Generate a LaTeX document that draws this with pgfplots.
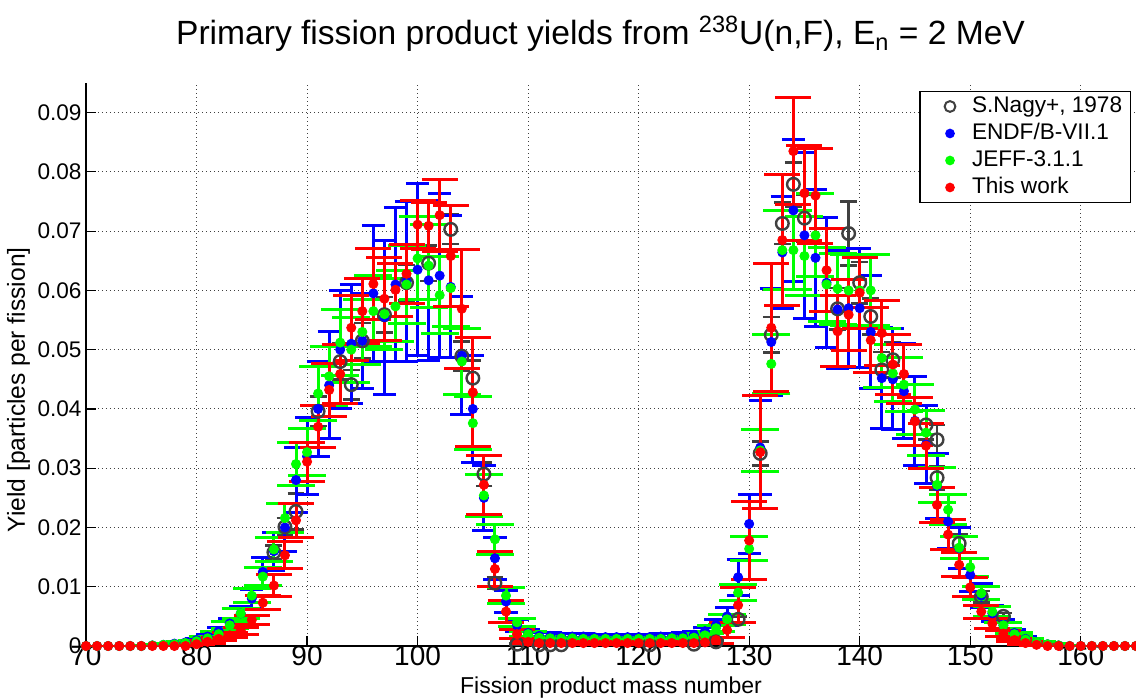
\documentclass[border=0pt]{standalone}
\usepackage{fontspec}
\setmainfont{Liberation Sans}
\usepackage{pgfplots}
\usepackage{pgfplotstable}
\pgfplotsset{compat=1.18}
\definecolor{nagy}{RGB}{64,64,64}
\definecolor{eblue}{RGB}{0,0,255}
\definecolor{jgreen}{RGB}{0,255,0}
\definecolor{twred}{RGB}{255,0,0}

\pgfplotstableread{
A Y E
87 0.0158 0.0012
88 0.0201 0.0015
89 0.0227 0.0030
91 0.0396 0.0025
93 0.0480 0.0030
94 0.0441 0.0025
95 0.0515 0.0030
97 0.0559 0.0030
99 0.0613 0.0030
101 0.0646 0.0030
103 0.0703 0.0025
104 0.0489 0.0025
105 0.0452 0.0030
106 0.0290 0.0020
107 0.0106 0.0010
109 0.0003 0.0001
111 0.0002 0.0001
112 0.0002 0.0001
113 0.0002 0.0001
121 0.0002 0.0001
125 0.0003 0.0001
127 0.0007 0.0002
129 0.0045 0.0005
131 0.0325 0.0020
132 0.0525 0.0030
133 0.0713 0.0035
134 0.0779 0.0037
135 0.0722 0.0040
138 0.0569 0.0035
139 0.0696 0.0054
140 0.0613 0.0035
141 0.0556 0.0030
142 0.0466 0.0030
143 0.0483 0.0030
146 0.0373 0.0025
147 0.0348 0.0025
147 0.0284 0.0020
149 0.0173 0.0015
151 0.0083 0.0010
153 0.0050 0.0006
}\nagytab

\pgfplotstableread{
A Y E
70 0 0
71 0 0
72 0 0
73 0 0
74 0 0
75 0 0
76 0.0001 0.00005
77 0.0002 0.0001
78 0.0004 0.0001
79 0.0006 0.0002
80 0.0010 0.0003
81 0.0016 0.0004
82 0.0025 0.0006
83 0.0038 0.0008
84 0.0055 0.0012
85 0.0080 0.0016
86 0.0125 0.0025
87 0.0160 0.0032
88 0.0200 0.0040
89 0.0280 0.0055
90 0.0320 0.0065
91 0.0400 0.0080
92 0.0440 0.0090
93 0.0500 0.0100
94 0.0510 0.0100
95 0.0515 0.0080
96 0.0595 0.0115
97 0.0555 0.0130
98 0.0610 0.0130
99 0.0615 0.0135
100 0.0635 0.0145
101 0.0617 0.0135
102 0.0625 0.0138
103 0.0606 0.0120
104 0.0490 0.0100
105 0.0400 0.0090
106 0.0250 0.0055
107 0.0148 0.0035
108 0.0075 0.0018
109 0.0035 0.0010
110 0.0022 0.0006
111 0.0017 0.0005
112 0.0017 0.0005
113 0.0016 0.0005
114 0.0016 0.0005
115 0.0016 0.0005
116 0.0015 0.0005
117 0.0015 0.0005
118 0.0015 0.0005
119 0.0015 0.0005
120 0.0015 0.0005
121 0.0015 0.0005
122 0.0016 0.0005
123 0.0016 0.0005
124 0.0017 0.0005
125 0.0019 0.0006
126 0.0025 0.0007
127 0.0035 0.0010
128 0.0050 0.0015
129 0.0116 0.0030
130 0.0206 0.0050
131 0.0335 0.0080
132 0.0513 0.0090
133 0.0664 0.0095
134 0.0735 0.0120
135 0.0693 0.0140
136 0.0655 0.0116
137 0.0613 0.0110
138 0.0568 0.0100
139 0.0570 0.0100
140 0.0570 0.0100
141 0.0530 0.0095
142 0.0452 0.0085
143 0.0450 0.0085
144 0.0430 0.0080
145 0.0380 0.0075
146 0.0340 0.0065
147 0.0270 0.0055
148 0.0210 0.0045
149 0.0165 0.0035
150 0.0120 0.0028
151 0.0085 0.0020
152 0.0055 0.0014
153 0.0035 0.0009
154 0.0022 0.0006
155 0.0012 0.0004
156 0.0006 0.0002
157 0.0003 0.0001
158 0.0001 0.00005
159 0 0
160 0 0
161 0 0
162 0 0
163 0 0
164 0 0
165 0 0
}\endftab

\pgfplotstableread{
A Y E
70 0 0
71 0 0
72 0 0
73 0 0
74 0 0
75 0 0
76 0.0001 0.00005
77 0.0002 0.0001
78 0.0003 0.0001
79 0.0005 0.0002
80 0.0008 0.0002
81 0.0013 0.0003
82 0.0020 0.0004
83 0.0035 0.0006
84 0.0055 0.0008
85 0.0085 0.0012
86 0.0117 0.0015
87 0.0163 0.0020
88 0.0216 0.0025
89 0.0307 0.0037
90 0.0327 0.0040
91 0.0426 0.0045
92 0.0455 0.0050
93 0.0512 0.0055
94 0.0500 0.0055
95 0.0530 0.0055
96 0.0565 0.0060
97 0.0560 0.0060
98 0.0573 0.0060
99 0.0610 0.0065
100 0.0654 0.0070
101 0.0642 0.0070
102 0.0592 0.0065
103 0.0604 0.0065
104 0.0480 0.0055
105 0.0376 0.0045
106 0.0254 0.0035
107 0.0180 0.0025
108 0.0085 0.0013
109 0.0040 0.0007
110 0.0020 0.0004
111 0.0014 0.0002
112 0.0013 0.0002
113 0.0013 0.0002
114 0.0013 0.0002
115 0.0012 0.0002
116 0.0012 0.0002
117 0.0012 0.0002
118 0.0012 0.0002
119 0.0012 0.0002
120 0.0012 0.0002
121 0.0012 0.0002
122 0.0012 0.0002
123 0.0013 0.0002
124 0.0013 0.0002
125 0.0014 0.0002
126 0.0018 0.0003
127 0.0030 0.0005
128 0.0045 0.0008
129 0.0090 0.0014
130 0.0164 0.0020
131 0.0330 0.0035
132 0.0476 0.0050
133 0.0668 0.0067
134 0.0668 0.0067
135 0.0658 0.0066
136 0.0693 0.0070
137 0.0610 0.0062
138 0.0603 0.0060
139 0.0600 0.0060
140 0.0600 0.0060
141 0.0600 0.0060
142 0.0486 0.0050
143 0.0460 0.0048
144 0.0441 0.0045
145 0.0399 0.0042
146 0.0360 0.0038
147 0.0272 0.0030
148 0.0230 0.0025
149 0.0166 0.0019
150 0.0133 0.0015
151 0.0089 0.0011
152 0.0058 0.0008
153 0.0035 0.0005
154 0.0020 0.0003
155 0.0011 0.0002
156 0.0006 0.0001
157 0.0003 0.0001
158 0.0001 0.00005
159 0 0
160 0 0
161 0 0
162 0 0
163 0 0
164 0 0
165 0 0
}\jefftab

\pgfplotstableread{
A Y E
70 0 0
71 0 0
72 0 0
73 0 0
74 0 0
75 0 0
76 0 0
77 0 0
78 0 0
79 0 0
80 0.0003 0.0001
81 0.0007 0.0002
82 0.0012 0.0003
83 0.0018 0.0004
84 0.0026 0.0006
85 0.0044 0.0008
86 0.0073 0.0012
87 0.0102 0.0019
88 0.0153 0.0023
89 0.0212 0.0029
90 0.0311 0.0033
91 0.0370 0.0035
92 0.0432 0.0045
93 0.0459 0.0050
94 0.0537 0.0055
95 0.0565 0.0055
96 0.0611 0.0060
97 0.0586 0.0070
98 0.0601 0.0045
99 0.0628 0.0050
100 0.0711 0.0040
101 0.0709 0.0040
102 0.0727 0.0061
103 0.0658 0.0085
104 0.0569 0.0100
105 0.0428 0.0092
106 0.0272 0.0050
107 0.0130 0.0030
108 0.0058 0.0018
109 0.0020 0.0008
110 0.0007 0.0003
111 0.0005 0.0002
112 0.0005 0.0002
113 0.0005 0.0002
114 0.0005 0.0002
115 0.0005 0.0002
116 0.0005 0.0002
117 0.0005 0.0002
118 0.0005 0.0002
119 0.0005 0.0002
120 0.0005 0.0002
121 0.0005 0.0002
122 0.0005 0.0002
123 0.0005 0.0002
124 0.0005 0.0002
125 0.0005 0.0002
126 0.0006 0.0002
127 0.0010 0.0005
128 0.0027 0.0012
129 0.0069 0.0030
130 0.0178 0.0066
131 0.0327 0.0095
132 0.0537 0.0108
133 0.0685 0.0110
134 0.0835 0.0090
135 0.0764 0.0080
136 0.0760 0.0080
137 0.0634 0.0070
138 0.0531 0.0060
139 0.0559 0.0060
140 0.0596 0.0060
141 0.0516 0.0055
142 0.0528 0.0055
143 0.0475 0.0050
144 0.0459 0.0050
145 0.0379 0.0040
146 0.0338 0.0038
147 0.0238 0.0030
148 0.0188 0.0025
149 0.0137 0.0020
150 0.0099 0.0016
151 0.0058 0.0011
152 0.0038 0.0008
153 0.0021 0.0005
154 0.0010 0.0003
155 0.0005 0.0002
156 0.0002 0.0001
157 0 0
158 0 0
159 0 0
160 0 0
161 0 0
162 0 0
163 0 0
164 0 0
165 0 0
}\thistab

\pgfplotsset{
  myleg/.style={legend image code/.code={%
     \path[draw=none, fill=none] (0pt,-2pt) rectangle (22pt,2pt);
     \draw[/tikz/only marks,##1] plot coordinates {(13pt,0pt)};}},
  eb/.style n args={3}{error bars/.cd, y dir=both, y explicit,
     error bar style={line width=#3, #1},
     error mark options={rotate=90, mark size=#2, line width=#3, #1}},
}

\begin{document}
\begin{tikzpicture}
\begin{axis}[
  scale only axis, width=525pt, height=281.5pt,
  xmin=70, xmax=165, ymin=0, ymax=0.095,
  axis x line*=bottom, axis y line*=left,
  axis line style={line width=0.6pt, black},
  tick align=inside, major tick length=5pt,
  tick style={black, line width=0.6pt},
  xtick={70,80,90,100,110,120,130,140,150,160},
  ytick={0,0.01,0.02,0.03,0.04,0.05,0.06,0.07,0.08,0.09},
  yticklabels={0,0.01,0.02,0.03,0.04,0.05,0.06,0.07,0.08,0.09},
  scaled y ticks=false,
  /pgf/number format/assume math mode=true,
  yticklabel style={xshift=1.3pt, font=\fontsize{11.3}{13}\selectfont},
  xticklabel style={yshift=3.4pt, font=\fontsize{14}{16}\selectfont},
  grid=major,
  major grid style={black!75, line width=0.5pt, dash pattern=on 0.5pt off 1.5pt},
  title={Primary fission product yields from \textsuperscript{238}U(n,F), E\textsubscript{n} = 2 MeV},
  title style={at={(axis description cs:0.49,1)}, anchor=base, yshift=13pt, font=\fontsize{16.8}{19}\selectfont},
  xlabel={Fission product mass number},
  xlabel style={at={(axis description cs:0.5,0)}, anchor=base, yshift=-23.5pt, font=\fontsize{11.5}{13}\selectfont},
  ylabel={Yield [particles per fission]},
  ylabel style={at={(axis description cs:-0.0581,0.455)}, anchor=base, font=\fontsize{12.3}{14}\selectfont},
  legend style={at={(rel axis cs:0.995,0.986)}, anchor=north east, draw=black, line width=0.6pt,
     font=\fontsize{11.3}{13.5}\selectfont, inner xsep=2pt, inner ysep=0.75pt,
     nodes={inner ysep=0pt, text height=9.7pt, text depth=3.8pt}},
  legend cell align=left,
]
\addplot[only marks, mark=o, mark size=3.15pt, draw=nagy, line width=1.2pt, forget plot,
  eb={nagy}{4.2pt}{1.3pt}] table[x=A, y=Y, y error=E] {\nagytab};
\addplot[only marks, mark=*, mark size=2.3pt, color=eblue, forget plot,
  eb={eblue}{5.8pt}{1.5pt}] table[x=A, y=Y, y error=E] {\endftab};
\addplot[only marks, mark=*, mark size=2.3pt, color=jgreen, forget plot,
  eb={jgreen}{9.5pt}{1.5pt}] table[x=A, y=Y, y error=E] {\jefftab};
\addplot[only marks, mark=*, mark size=2.3pt, color=twred, forget plot,
  eb={twred}{9pt}{1.5pt}] table[x=A, y=Y, y error=E] {\thistab};

\addlegendimage{myleg, mark=o, mark size=2.7pt, draw=nagy, line width=1pt}
\addlegendentry{S.Nagy+, 1978}
\addlegendimage{myleg, mark=*, mark size=2.1pt, color=eblue}
\addlegendentry{ENDF/B-VII.1}
\addlegendimage{myleg, mark=*, mark size=2.1pt, color=jgreen}
\addlegendentry{JEFF-3.1.1}
\addlegendimage{myleg, mark=*, mark size=2.1pt, color=twred}
\addlegendentry{This work}
\end{axis}
\pgfresetboundingbox
\path[use as bounding box] ([xshift=-43pt,yshift=-26.5pt]current axis.south west) rectangle ([yshift=41.5pt]current axis.north east);
\end{tikzpicture}
\end{document}
